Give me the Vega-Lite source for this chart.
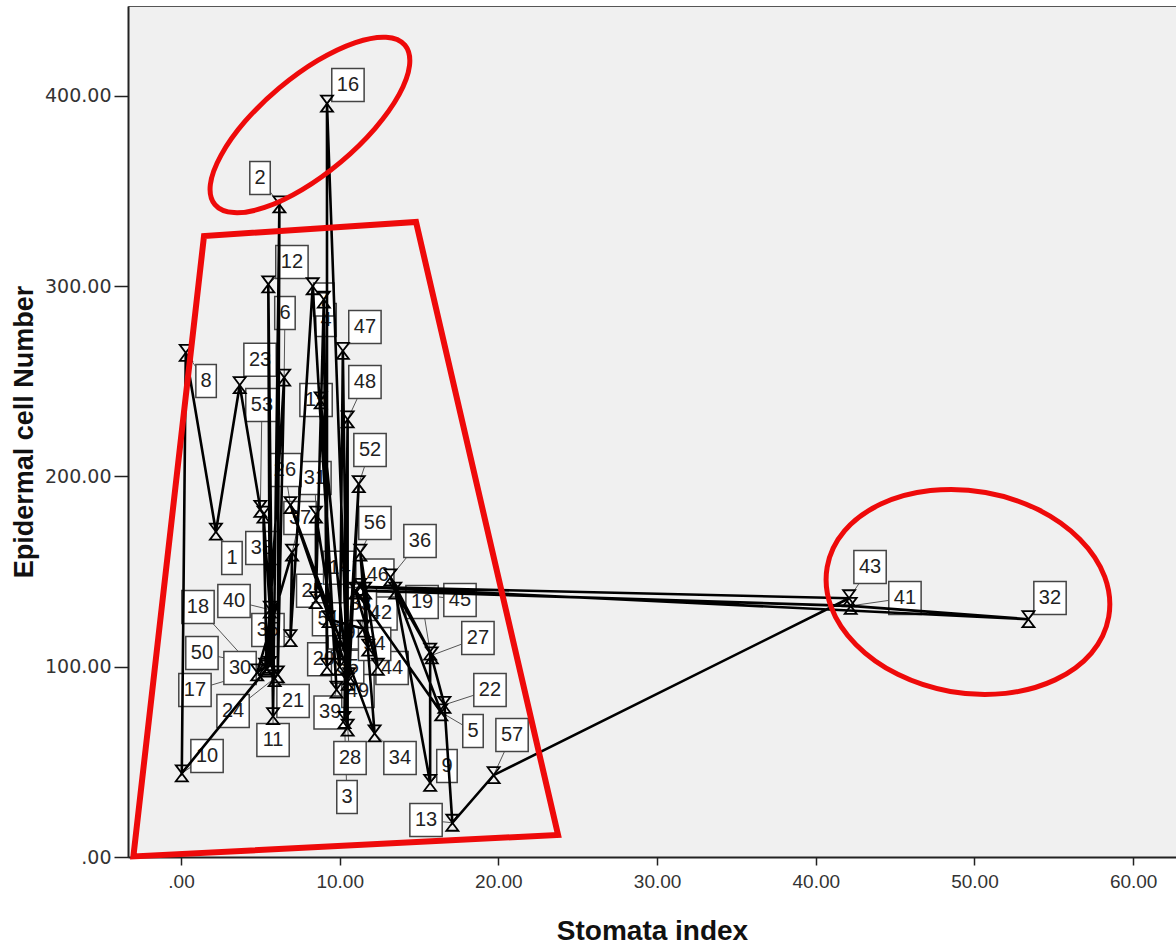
{
  "$schema": "https://vega.github.io/schema/vega-lite/v6.json",
  "width": 1048,
  "height": 851,
  "autosize": {"type": "none"},
  "padding": {"left": 128, "top": 6, "right": 0, "bottom": 88},
  "background": "#ffffff",
  "config": {
    "view": {"fill": "#f0f0f0", "stroke": "#555555", "strokeWidth": 1},
    "axis": {"grid": false, "domainColor": "#222222", "domainWidth": 2, "tickColor": "#222222", "tickWidth": 1.5, "labelColor": "#333333", "titleColor": "#111111", "titleFont": "Liberation Sans", "titleFontWeight": "bold"},
    "axisX": {"labelFont": "Liberation Sans", "labelFontSize": 19, "tickSize": 8, "labelPadding": 7, "titleFontSize": 28, "titlePadding": 26},
    "axisY": {"labelFont": "DejaVu Sans", "labelFontSize": 19, "tickSize": 14, "labelPadding": 3, "titleFontSize": 27, "titlePadding": 6}
  },
  "datasets": {
    "pts": [
      {"case": 53, "seq": 1, "x": 5.0, "y": 183, "lx": 5.10, "ly": 237.6},
      {"case": 23, "seq": 2, "x": 3.7, "y": 248, "lx": 4.98, "ly": 261.3},
      {"case": 1, "seq": 3, "x": 2.2, "y": 171, "lx": 3.21, "ly": 157.2},
      {"case": 8, "seq": 4, "x": 0.3, "y": 265, "lx": 1.58, "ly": 250.2},
      {"case": 10, "seq": 5, "x": 0.05, "y": 44, "lx": 1.64, "ly": 53.1},
      {"case": 30, "seq": 6, "x": 5.6, "y": 101, "lx": 3.72, "ly": 99.3},
      {"case": 12, "seq": 7, "x": 5.5, "y": 301, "lx": 6.99, "ly": 312.7},
      {"case": 11, "seq": 8, "x": 5.8, "y": 74, "lx": 5.80, "ly": 61.5},
      {"case": 2, "seq": 9, "x": 6.2, "y": 343, "lx": 4.98, "ly": 356.9},
      {"case": 21, "seq": 10, "x": 6.1, "y": 96, "lx": 7.06, "ly": 82.0},
      {"case": 6, "seq": 11, "x": 6.5, "y": 252, "lx": 6.55, "ly": 286.0},
      {"case": 17, "seq": 12, "x": 5.4, "y": 99, "lx": 0.88, "ly": 87.8},
      {"case": 38, "seq": 13, "x": 5.2, "y": 180, "lx": 5.10, "ly": 162.4},
      {"case": 24, "seq": 14, "x": 5.9, "y": 94, "lx": 3.28, "ly": 76.7},
      {"case": 40, "seq": 15, "x": 5.6, "y": 130, "lx": 3.34, "ly": 134.6},
      {"case": 50, "seq": 16, "x": 5.3, "y": 100, "lx": 1.32, "ly": 107.2},
      {"case": 18, "seq": 17, "x": 4.8, "y": 97, "lx": 1.07, "ly": 131.4},
      {"case": 37, "seq": 18, "x": 7.0, "y": 160, "lx": 7.50, "ly": 178.2},
      {"case": 35, "seq": 19, "x": 6.9, "y": 115, "lx": 5.48, "ly": 119.3},
      {"case": 4, "seq": 20, "x": 8.3, "y": 300, "lx": 9.14, "ly": 282.3},
      {"case": 39, "seq": 21, "x": 9.8, "y": 88, "lx": 9.4, "ly": 76},
      {"case": 15, "seq": 22, "x": 8.8, "y": 240, "lx": 8.51, "ly": 240.2},
      {"case": 49, "seq": 23, "x": 10.5, "y": 92, "lx": 11.15, "ly": 87.3},
      {"case": 16, "seq": 24, "x": 9.2, "y": 396, "lx": 10.52, "ly": 405.8},
      {"case": 20, "seq": 25, "x": 9.2, "y": 100, "lx": 9.0, "ly": 104},
      {"case": 7, "seq": 26, "x": 9.0, "y": 293, "lx": 9.0, "ly": 293},
      {"case": 25, "seq": 27, "x": 8.5, "y": 135, "lx": 8.3, "ly": 140},
      {"case": 31, "seq": 28, "x": 8.5, "y": 180, "lx": 8.44, "ly": 199.2},
      {"case": 29, "seq": 29, "x": 10.0, "y": 100, "lx": 10.3, "ly": 118},
      {"case": 47, "seq": 30, "x": 10.2, "y": 266, "lx": 11.59, "ly": 278.6},
      {"case": 28, "seq": 31, "x": 10.5, "y": 68, "lx": 10.65, "ly": 52.0},
      {"case": 48, "seq": 32, "x": 10.5, "y": 230, "lx": 11.59, "ly": 249.7},
      {"case": 3, "seq": 33, "x": 10.3, "y": 72, "lx": 10.46, "ly": 31.5},
      {"case": 52, "seq": 34, "x": 11.2, "y": 196, "lx": 11.91, "ly": 213.9},
      {"case": 55, "seq": 35, "x": 10.6, "y": 95, "lx": 10.5, "ly": 100},
      {"case": 26, "seq": 36, "x": 6.9, "y": 185, "lx": 6.55, "ly": 203.4},
      {"case": 34, "seq": 37, "x": 12.2, "y": 65, "lx": 13.80, "ly": 52.0},
      {"case": 56, "seq": 38, "x": 11.3, "y": 160, "lx": 12.22, "ly": 175.6},
      {"case": 44, "seq": 39, "x": 12.4, "y": 100, "lx": 13.30, "ly": 99.3},
      {"case": 14, "seq": 40, "x": 11.0, "y": 140, "lx": 10.0, "ly": 152},
      {"case": 5, "seq": 41, "x": 16.4, "y": 76, "lx": 18.40, "ly": 66.2},
      {"case": 36, "seq": 42, "x": 13.2, "y": 147, "lx": 15.06, "ly": 166.1},
      {"case": 27, "seq": 43, "x": 15.8, "y": 106, "lx": 18.71, "ly": 115.1},
      {"case": 45, "seq": 44, "x": 13.5, "y": 140, "lx": 17.58, "ly": 135.1},
      {"case": 9, "seq": 45, "x": 15.7, "y": 39, "lx": 16.76, "ly": 47.8},
      {"case": 19, "seq": 46, "x": 15.7, "y": 108, "lx": 15.19, "ly": 134.0},
      {"case": 22, "seq": 47, "x": 16.6, "y": 80, "lx": 19.47, "ly": 87.8},
      {"case": 13, "seq": 48, "x": 17.1, "y": 18, "lx": 15.44, "ly": 19.4},
      {"case": 57, "seq": 49, "x": 19.7, "y": 43, "lx": 20.86, "ly": 64.1},
      {"case": 43, "seq": 50, "x": 42.1, "y": 136, "lx": 43.42, "ly": 152.4},
      {"case": 46, "seq": 51, "x": 11.3, "y": 142, "lx": 12.4, "ly": 148},
      {"case": 32, "seq": 52, "x": 53.4, "y": 125, "lx": 54.76, "ly": 136.1},
      {"case": 41, "seq": 53, "x": 42.2, "y": 132, "lx": 45.62, "ly": 136.1},
      {"case": 42, "seq": 54, "x": 11.6, "y": 140, "lx": 12.6, "ly": 128},
      {"case": 54, "seq": 55, "x": 11.8, "y": 110, "lx": 12.2, "ly": 112},
      {"case": 33, "seq": 56, "x": 11.5, "y": 120, "lx": 11.3, "ly": 133},
      {"case": 51, "seq": 57, "x": 9.3, "y": 125, "lx": 9.3, "ly": 125}
    ],
    "ell": [
      {"g": "top", "i": 0, "ex": 14.11, "ey": 426.7},
      {"g": "top", "i": 1, "ex": 14.40, "ey": 416.0},
      {"g": "top", "i": 2, "ex": 13.74, "ey": 400.7},
      {"g": "top", "i": 3, "ex": 12.22, "ey": 382.9},
      {"g": "top", "i": 4, "ex": 10.08, "ey": 365.4},
      {"g": "top", "i": 5, "ex": 7.64, "ey": 350.8},
      {"g": "top", "i": 6, "ex": 5.27, "ey": 341.4},
      {"g": "top", "i": 7, "ex": 3.34, "ey": 338.7},
      {"g": "top", "i": 8, "ex": 2.14, "ey": 342.9},
      {"g": "top", "i": 9, "ex": 1.85, "ey": 353.5},
      {"g": "top", "i": 10, "ex": 2.52, "ey": 368.8},
      {"g": "top", "i": 11, "ex": 4.03, "ey": 386.6},
      {"g": "top", "i": 12, "ex": 6.18, "ey": 404.1},
      {"g": "top", "i": 13, "ex": 8.62, "ey": 418.7},
      {"g": "top", "i": 14, "ex": 10.99, "ey": 428.1},
      {"g": "top", "i": 15, "ex": 12.92, "ey": 430.9},
      {"g": "right", "i": 0, "ex": 58.46, "ey": 126.2},
      {"g": "right", "i": 1, "ex": 57.37, "ey": 107.2},
      {"g": "right", "i": 2, "ex": 55.08, "ey": 93.1},
      {"g": "right", "i": 3, "ex": 51.96, "ey": 86.0},
      {"g": "right", "i": 4, "ex": 48.48, "ey": 87.0},
      {"g": "right", "i": 5, "ex": 45.17, "ey": 96.0},
      {"g": "right", "i": 6, "ex": 42.54, "ey": 111.6},
      {"g": "right", "i": 7, "ex": 40.97, "ey": 131.4},
      {"g": "right", "i": 8, "ex": 40.72, "ey": 152.4},
      {"g": "right", "i": 9, "ex": 41.81, "ey": 171.4},
      {"g": "right", "i": 10, "ex": 44.10, "ey": 185.5},
      {"g": "right", "i": 11, "ex": 47.22, "ey": 192.6},
      {"g": "right", "i": 12, "ex": 50.70, "ey": 191.6},
      {"g": "right", "i": 13, "ex": 54.01, "ey": 182.6},
      {"g": "right", "i": 14, "ex": 56.64, "ey": 167.0},
      {"g": "right", "i": 15, "ex": 58.21, "ey": 147.2}
    ],
    "trap": [
      {"i": 0, "tx": -3.0, "ty": 0.3},
      {"i": 1, "tx": 1.45, "ty": 326.4},
      {"i": 2, "tx": 14.81, "ty": 333.8},
      {"i": 3, "tx": 23.76, "ty": 11.6}
    ]
  },
  "layer": [
    {
      "data": {"name": "pts"},
      "mark": {"type": "rule", "color": "#555555", "strokeWidth": 1},
      "encoding": {
        "x": {"field": "x", "type": "quantitative", "title": "Stomata index", "scale": {"domain": [-3.34, 62.7], "nice": false, "zero": false}, "axis": {"values": [0, 10, 20, 30, 40, 50, 60], "labelExpr": "datum.value == 0 ? '.00' : format(datum.value, '.2f')", "title": "Stomata index"}},
        "y": {"field": "y", "type": "quantitative", "title": "Epidermal cell Number", "scale": {"domain": [0, 447.3], "nice": false, "zero": false}, "axis": {"values": [0, 100, 200, 300, 400], "labelExpr": "datum.value == 0 ? '.00' : format(datum.value, '.2f')", "title": "Epidermal cell Number"}},
        "x2": {"field": "lx"},
        "y2": {"field": "ly"}
      }
    },
    {
      "data": {"name": "pts"},
      "mark": {"type": "point", "filled": false, "fill": "#ffffff", "fillOpacity": 1, "stroke": "#444444", "strokeWidth": 1.5, "size": 1089, "opacity": 1},
      "encoding": {
        "x": {"field": "lx", "type": "quantitative", "title": "Stomata index"},
        "y": {"field": "ly", "type": "quantitative", "title": "Epidermal cell Number"},
        "shape": {"condition": {"test": "datum.case >= 10", "value": "M-0.98,-1H0.98V1H-0.98Z"}, "value": "M-0.62,-1H0.62V1H-0.62Z"}
      }
    },
    {
      "data": {"name": "pts"},
      "mark": {"type": "text", "font": "Liberation Sans", "fontSize": 20, "color": "#222222", "align": "center", "baseline": "middle"},
      "encoding": {
        "x": {"field": "lx", "type": "quantitative", "title": "Stomata index"},
        "y": {"field": "ly", "type": "quantitative", "title": "Epidermal cell Number"},
        "text": {"field": "case", "type": "nominal"}
      }
    },
    {
      "data": {"name": "pts"},
      "mark": {"type": "line", "color": "#000000", "strokeWidth": 2.6},
      "encoding": {
        "x": {"field": "x", "type": "quantitative", "title": "Stomata index"},
        "y": {"field": "y", "type": "quantitative", "title": "Epidermal cell Number"},
        "order": {"field": "seq", "type": "quantitative"}
      }
    },
    {
      "data": {"name": "pts"},
      "mark": {"type": "point", "shape": "M-0.75,-1L0.75,-1L-0.75,1L0.75,1Z", "size": 256, "filled": false, "stroke": "#000000", "strokeWidth": 1.8, "opacity": 1},
      "encoding": {
        "x": {"field": "x", "type": "quantitative", "title": "Stomata index"},
        "y": {"field": "y", "type": "quantitative", "title": "Epidermal cell Number"}
      }
    },
    {
      "data": {"name": "ell"},
      "mark": {"type": "line", "color": "#ee0a0a", "strokeWidth": 5, "interpolate": "cardinal-closed"},
      "encoding": {
        "x": {"field": "ex", "type": "quantitative", "title": "Stomata index"},
        "y": {"field": "ey", "type": "quantitative", "title": "Epidermal cell Number"},
        "detail": {"field": "g", "type": "nominal"},
        "order": {"field": "i", "type": "quantitative"}
      }
    },
    {
      "data": {"name": "trap"},
      "mark": {"type": "line", "color": "#ee0a0a", "strokeWidth": 6, "interpolate": "linear-closed", "strokeJoin": "miter"},
      "encoding": {
        "x": {"field": "tx", "type": "quantitative", "title": "Stomata index"},
        "y": {"field": "ty", "type": "quantitative", "title": "Epidermal cell Number"},
        "order": {"field": "i", "type": "quantitative"}
      }
    }
  ]
}
